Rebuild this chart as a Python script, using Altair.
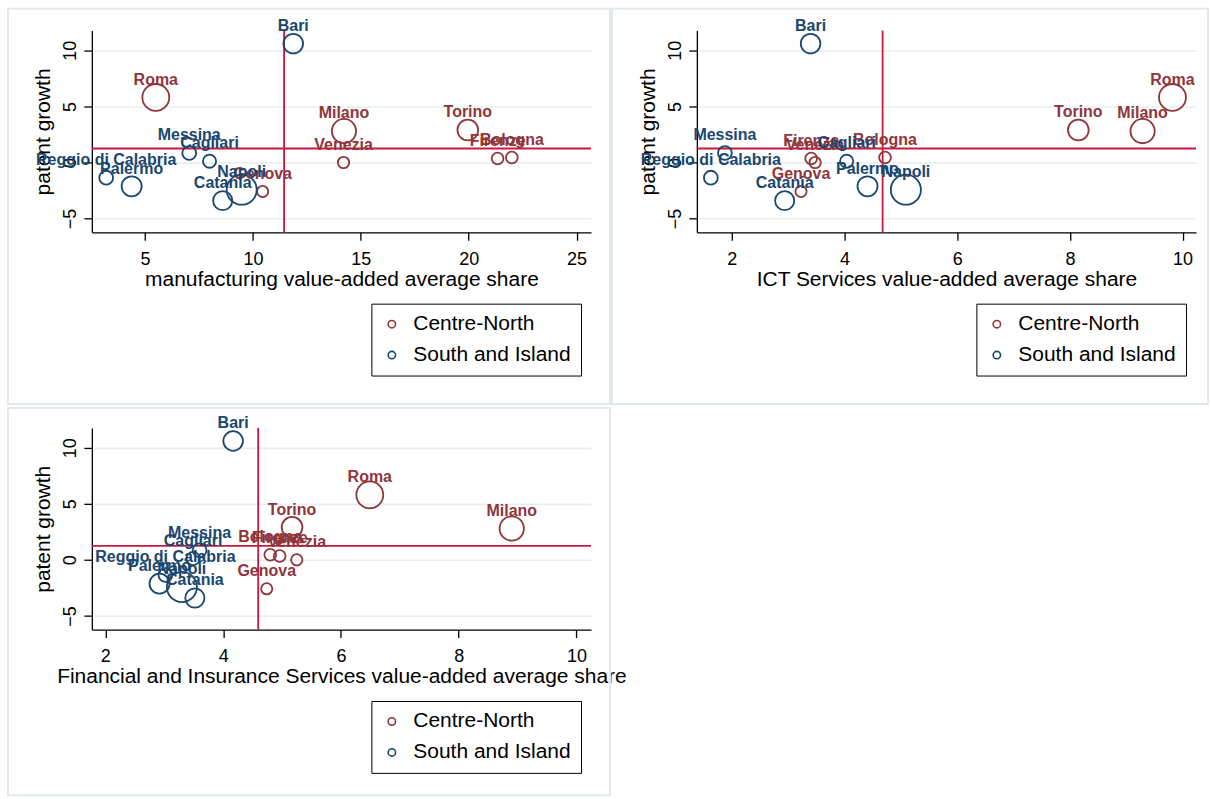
import altair as alt
import pandas as pd

# ---- data -------------------------------------------------------------
cities = ["Bari", "Roma", "Milano", "Torino", "Venezia", "Firenze", "Bologna",
          "Genova", "Napoli", "Catania", "Messina", "Cagliari",
          "Reggio di Calabria", "Palermo"]
macro_area = ["South and Island", "Centre-North", "Centre-North", "Centre-North",
              "Centre-North", "Centre-North", "Centre-North", "Centre-North",
              "South and Island", "South and Island", "South and Island",
              "South and Island", "South and Island", "South and Island"]
patent_growth = [10.6, 5.8, 2.8, 2.9, 0.0, 0.35, 0.45, -2.58, -2.42, -3.4,
                 0.85, 0.12, -1.35, -2.12]
bubble_weight = [123, 231, 188, 137, 41, 44, 44, 40, 289, 117, 61, 55, 61, 128]
manufacturing_share = [11.87, 5.5, 14.22, 19.96, 14.2, 21.34, 22.0, 10.45, 9.48,
                       8.6, 7.05, 7.99, 3.2, 4.38]
ict_share = [3.40, 9.82, 9.29, 8.15, 3.48, 3.41, 4.72, 3.23, 5.09, 2.94, 1.88,
             4.04, 1.63, 4.41]
finance_share = [4.17, 6.49, 8.90, 5.17, 5.25, 4.96, 4.80, 4.74, 3.30, 3.52,
                 3.60, 3.49, 3.02, 2.92]
growth_reference = [1.25]

areas = ["Centre-North", "South and Island"]
growth_ticks = [-5, 0, 5, 10]
manufacturing_ticks = [5, 10, 15, 20, 25]
services_ticks = [2, 4, 6, 8, 10]

df = pd.DataFrame({
    "city": cities,
    "area": macro_area,
    "growth": patent_growth,
    "weight": bubble_weight,
    "manuf": manufacturing_share,
    "ict": ict_share,
    "fin": finance_share,
})
ref_df = pd.DataFrame({"growth": growth_reference})
one_row = pd.DataFrame({"k": [0]})

# ---- style ------------------------------------------------------------
FONT = "Liberation Sans"
MAROON = "#90353b"
NAVY = "#1a476f"
RED = "#c8183d"
GRID = "#e9eff1"
FRAME = "#e2e9ec"
Y_DOMAIN = [-6.22, 11.76]
PLOT_W, PLOT_H = 500, 202


def y_enc():
    return alt.Y(
        "growth:Q", title="patent growth",
        scale=alt.Scale(domain=Y_DOMAIN, nice=False, zero=False),
        axis=alt.Axis(values=growth_ticks, grid=True, gridColor=GRID,
                      gridWidth=1.6, labelAngle=270, labelAlign="center",
                      labelBaseline="bottom", labelPadding=4, titlePadding=8),
    )


def x_enc(field, title, domain, ticks, aggregate=None):
    kw = dict(title=title,
              scale=alt.Scale(domain=domain, nice=False, zero=False),
              axis=alt.Axis(values=ticks, grid=False, labelPadding=10,
                            titlePadding=0))
    if aggregate:
        return alt.X(field, type="quantitative", aggregate=aggregate, **kw)
    return alt.X(f"{field}:Q", **kw)


area_scale = alt.Scale(domain=areas, range=[MAROON, NAVY])


def panel(field, title, domain, ticks, frame):
    fx0, fx1, fy0, fy1 = frame
    border = alt.Chart(one_row).mark_rect(
        fillOpacity=0, stroke=FRAME, strokeWidth=2
    ).encode(x=alt.value(fx0), x2=alt.value(fx1),
             y=alt.value(fy0), y2=alt.value(fy1))

    # unweighted mean of the sector share, and the patent-growth reference
    vline = alt.Chart(df).mark_rule(color=RED, strokeWidth=1.8).encode(
        x=x_enc(field, title, domain, ticks, aggregate="mean"))
    hline = alt.Chart(ref_df).mark_rule(color=RED, strokeWidth=1.8).encode(
        y=y_enc())

    # hollow bubbles, area proportional to the weight
    bubbles = alt.Chart(df).mark_point(
        shape="circle", filled=False, strokeWidth=1.8, opacity=1
    ).encode(
        x=x_enc(field, title, domain, ticks),
        y=y_enc(),
        color=alt.Color(
            "area:N", scale=area_scale,
            legend=alt.Legend(
                title=None, orient="none", legendX=280, legendY=273.5,
                direction="vertical", strokeColor="black", fillColor="white",
                padding=10, cornerRadius=0, labelFont=FONT, labelFontSize=21,
                labelColor="black", labelOffset=11, rowPadding=9,
                symbolType="circle", symbolSize=55, symbolStrokeWidth=1.6,
                symbolFillColor="white", symbolOpacity=1),
        ),
        size=alt.Size("weight:Q", legend=None,
                      scale=alt.Scale(type="linear", domain=[0, 100],
                                      range=[0, 314.16])),
    )

    # city names above each bubble, coloured by macro area
    labels = alt.Chart(df).mark_text(
        dy=-17.7, fontSize=16, fontWeight="bold", font=FONT,
        baseline="middle", align="center"
    ).encode(
        x=x_enc(field, title, domain, ticks),
        y=y_enc(),
        text="city:N",
        fill=alt.condition(alt.datum.area == areas[0], alt.value(MAROON),
                           alt.value(NAVY)),
    )

    return alt.layer(border, vline, hline, bubbles, labels).properties(
        width=PLOT_W, height=PLOT_H)


p1 = panel("manuf", "manufacturing value-added average share",
           [2.536, 25.67], manufacturing_ticks, (-84, 519, -22, 374))
p2 = panel("ict", "ICT Services value-added average share",
           [1.382, 10.238], services_ticks, (-85, 512, -22, 374))
p3 = panel("fin", "Financial and Insurance Services value-added average share",
           [1.771, 10.246], services_ticks, (-84, 519, -20, 368))

chart = alt.concat(
    p1, p2, p3, columns=2, bounds="flush",
    spacing={"row": 196, "column": 106},
).resolve_scale(color="independent").resolve_legend(
    color="independent"
).properties(
    padding={"left": 7, "top": 7, "right": 2, "bottom": 4},
    background="white",
).configure_view(stroke=None).configure_axis(
    domainColor="black", domainWidth=1.3, tickColor="black", tickWidth=1.3,
    tickSize=8, labelFont=FONT, labelFontSize=18, labelColor="black",
    titleFont=FONT, titleFontSize=21, titleFontWeight="normal",
    titleColor="black",
)

chart.save("out.html", embed_options={"renderer": "svg", "actions": False})
